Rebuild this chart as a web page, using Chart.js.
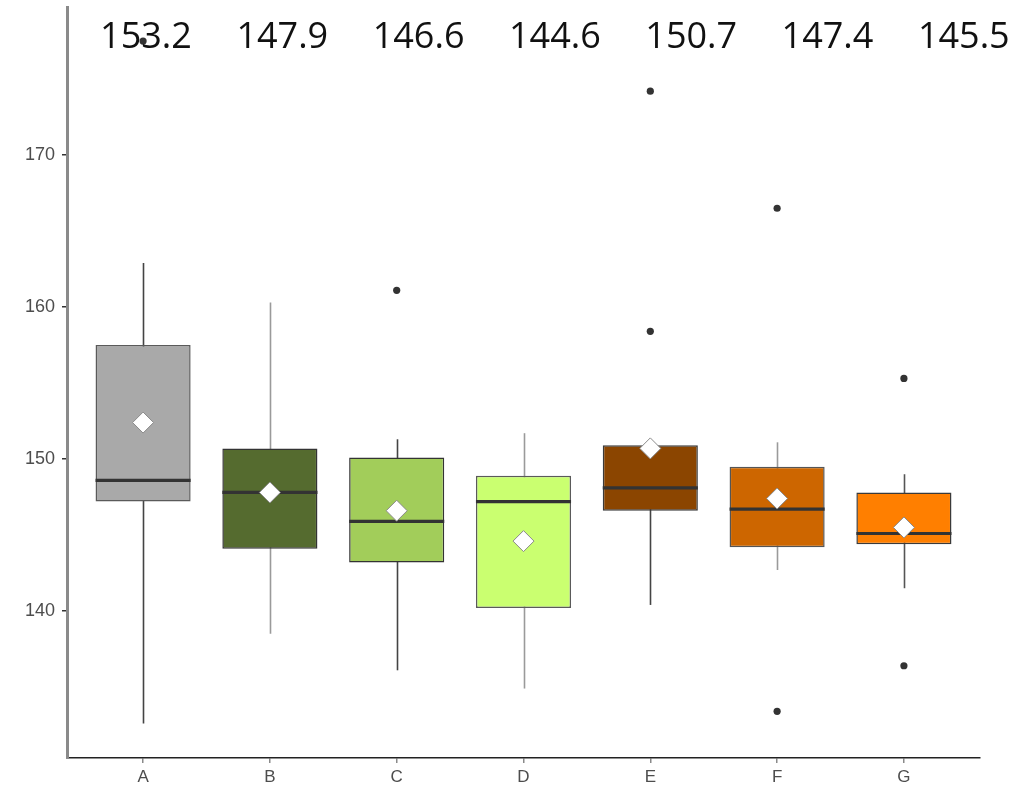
<!DOCTYPE html>
<html>
<head>
<meta charset="utf-8">
<script src="https://cdn.jsdelivr.net/npm/chart.js@4/dist/chart.umd.min.js"></script>
<style>
  html, body { margin: 0; padding: 0; background: #ffffff; }
  #wrap { width: 1022px; height: 792px; position: relative; }
</style>
</head>
<body>
<div id="wrap"><canvas id="c" width="1022" height="792"></canvas></div>
<script>
// ---- data ----
const categories  = ['A', 'B', 'C', 'D', 'E', 'F', 'G'];
const whiskerLow  = [132.6, 138.5, 136.1, 134.9, 140.4, 142.7, 141.5];
const q1          = [147.2, 144.1, 143.2, 140.2, 146.6, 144.2, 144.4];
const medians     = [148.6, 147.8, 145.9, 147.2, 148.1, 146.7, 145.1];
const q3          = [157.5, 150.7, 150.1, 148.9, 150.9, 149.5, 147.8];
const whiskerHigh = [162.9, 160.3, 151.3, 151.7, 150.9, 151.1, 149.0];
const means       = [152.4, 147.8, 146.6, 144.6, 150.7, 147.4, 145.5];
const outlierCat  = ['A', 'C', 'E', 'E', 'F', 'F', 'G', 'G'];
const outlierVal  = [177.5, 161.1, 174.2, 158.4, 166.5, 133.4, 155.3, 136.4];
const topLabels   = ['153.2', '147.9', '146.6', '144.6', '150.7', '147.4', '145.5'];
const yTickValues = [140, 150, 160, 170];

// ---- styles ----
const fillColors    = ['#a9a9a9', '#556b2f', '#a2cd5a', '#caff70', '#8b4500', '#cd6600', '#ff7f00'];
const boxBorders    = ['#5a5a5a', '#333333', '#333333', '#5a5a5a', '#3a3a3a', '#555555', '#3a3a3a'];
const whiskerColors = ['#444444', '#9a9a9a', '#444444', '#9a9a9a', '#444444', '#9a9a9a', '#555555'];

const boxData = categories.map((c, i) => ({ x: i, y: [q1[i], q3[i]] }));
const meanData = categories.map((c, i) => ({ x: i, y: means[i] }));
const outlierData = outlierCat.map((c, k) => ({ x: categories.indexOf(c), y: outlierVal[k] }));

const boxPlugin = {
  id: 'boxParts',
  beforeDatasetsDraw(chart) {
    const ctx = chart.ctx, xs = chart.scales.x, ys = chart.scales.y;
    ctx.save();
    ctx.lineWidth = 1.6;
    categories.forEach((c, i) => {
      const x = Math.round(xs.getPixelForValue(i)) + 0.5;
      ctx.strokeStyle = whiskerColors[i];
      ctx.beginPath();
      ctx.moveTo(x, ys.getPixelForValue(whiskerLow[i]));
      ctx.lineTo(x, ys.getPixelForValue(whiskerHigh[i]));
      ctx.stroke();
    });
    ctx.restore();
  },
  afterDatasetDraw(chart, args) {
    if (args.index !== 0) return;
    const ctx = chart.ctx, ys = chart.scales.y;
    const meta = chart.getDatasetMeta(0);
    ctx.save();
    ctx.strokeStyle = '#333333';
    ctx.lineWidth = 3.2;
    meta.data.forEach((el, i) => {
      const y = ys.getPixelForValue(medians[i]);
      ctx.beginPath();
      ctx.moveTo(el.x - el.width / 2, y);
      ctx.lineTo(el.x + el.width / 2, y);
      ctx.stroke();
    });
    ctx.restore();
  },
  afterDraw(chart) {
    const ctx = chart.ctx;
    const startX = 146, stepX = 136.3, baseY = 48;
    ctx.save();
    ctx.font = '36px "Open Sans", "Noto Sans", sans-serif';
    ctx.fillStyle = '#111111';
    ctx.textAlign = 'center';
    ctx.textBaseline = 'alphabetic';
    topLabels.forEach((t, i) => ctx.fillText(t, startX + i * stepX, baseY));
    ctx.restore();
  }
};

new Chart(document.getElementById('c'), {
  type: 'bar',
  data: {
    datasets: [
      {
        type: 'bar',
        data: boxData,
        backgroundColor: fillColors,
        borderColor: boxBorders,
        borderWidth: 1.5,
        borderSkipped: false,
        barPercentage: 0.75,
        categoryPercentage: 1.0,
        order: 3
      },
      {
        type: 'scatter',
        data: outlierData,
        pointStyle: 'circle',
        pointRadius: 3.6,
        pointBackgroundColor: '#333333',
        pointBorderColor: '#333333',
        pointBorderWidth: 0,
        order: 2
      },
      {
        type: 'scatter',
        data: meanData,
        pointStyle: 'rectRot',
        pointRadius: 10.5,
        pointBackgroundColor: '#ffffff',
        pointBorderColor: '#8a8a8a',
        pointBorderWidth: 1,
        order: 1
      }
    ]
  },
  options: {
    responsive: false,
    animation: false,
    events: [],
    layout: { autoPadding: false, padding: { top: 7, right: 42, left: 0, bottom: 0 } },
    plugins: { legend: { display: false }, tooltip: { enabled: false } },
    scales: {
      x: {
        type: 'linear',
        offset: false,
        min: -0.6,
        max: 6.6,
        afterFit(s) { s.height = 34; s.paddingLeft = 0; s.paddingRight = 0; },
        afterBuildTicks(s) { s.ticks = categories.map((c, i) => ({ value: i })); },
        ticks: {
          autoSkip: false,
          maxRotation: 0,
          padding: 4,
          color: '#4d4d4d',
          font: { family: '"Liberation Sans", Arial, sans-serif', size: 17 },
          callback: (v) => categories[v]
        },
        grid: { offset: false, drawOnChartArea: false, drawTicks: true, tickLength: 5, color: '#8a8a8a', lineWidth: 1.5 },
        border: { display: true, color: '#222222', width: 1.6 }
      },
      y: {
        type: 'linear',
        min: 130.33,
        max: 179.74,
        afterFit(s) { s.width = 67; s.paddingTop = 0; s.paddingBottom = 0; },
        afterBuildTicks(s) { s.ticks = yTickValues.map(v => ({ value: v })); },
        ticks: {
          padding: 7,
          color: '#4d4d4d',
          font: { family: '"Liberation Sans", Arial, sans-serif', size: 18 }
        },
        grid: { drawOnChartArea: false, drawTicks: true, tickLength: 5, color: '#333333', lineWidth: 1.5 },
        border: { display: true, color: '#8a8a8a', width: 3 }
      }
    }
  },
  plugins: [boxPlugin]
});
</script>
</body>
</html>
